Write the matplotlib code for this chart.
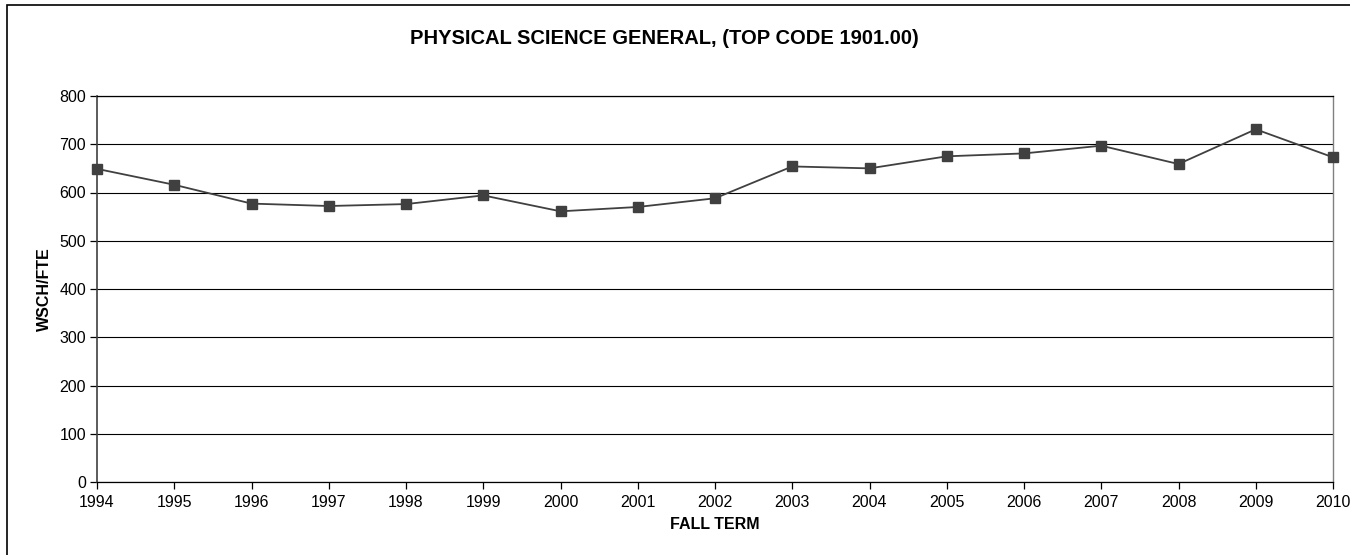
import numpy as np
import matplotlib.pyplot as plt
from matplotlib.patches import Rectangle

plt.rcParams['font.family'] = ['Liberation Sans', 'DejaVu Sans']

# Data
years = [1994, 1995, 1996, 1997, 1998, 1999, 2000, 2001, 2002,
         2003, 2004, 2005, 2006, 2007, 2008, 2009, 2010]
wsch_fte = [649, 616, 577, 572, 576, 594, 561, 570, 588,
            654, 650, 675, 681, 697, 659, 731, 673]
y_ticks = [0, 100, 200, 300, 400, 500, 600, 700, 800]

W, H = 1350, 555
fig = plt.figure(figsize=(W / 100, H / 100), dpi=100)
ax = fig.add_axes([97 / W, 1 - 482 / H, (1333 - 97) / W, (482 - 96) / H])

# outer chart border (only top/left visible in the reference)
fig.patches.append(Rectangle((7 / W, -0.1), 1.2, 1 - 5 / H + 0.1,
                             transform=fig.transFigure, fill=False,
                             edgecolor='black', linewidth=1.2))

ax.set_ylim(0, 800)
ax.set_xlim(years[0], years[-1])
ax.set_yticks(y_ticks)
ax.set_xticks(years)
ax.yaxis.grid(True, color='black', linewidth=0.8)
ax.set_axisbelow(True)

ax.plot(years, wsch_fte, color='#404040', linewidth=1.3, marker='s',
        markersize=7, markerfacecolor='#404040', markeredgecolor='#404040',
        clip_on=False, zorder=3)

for side in ['top', 'bottom']:
    ax.spines[side].set_color('black')
    ax.spines[side].set_linewidth(0.9)
ax.spines['left'].set_color('#404040')
ax.spines['left'].set_linewidth(1.2)
ax.spines['right'].set_color('#808080')
ax.spines['right'].set_linewidth(1.0)

ax.tick_params(axis='both', direction='out', length=5, width=0.9,
               labelsize=11.5, color='black')
ax.tick_params(axis='x', pad=4.5)
ax.tick_params(axis='y', pad=3)

ax.set_xlabel('FALL TERM', fontsize=11.5, fontweight='bold', labelpad=5)
ax.set_ylabel('WSCH/FTE', fontsize=11.5, fontweight='bold', labelpad=5)

fig.text(664 / W, 1 - 38 / H, 'PHYSICAL SCIENCE GENERAL, (TOP CODE 1901.00)',
         ha='center', va='center', fontsize=14.5, fontweight='bold')

fig.savefig('out.png', dpi=100)
